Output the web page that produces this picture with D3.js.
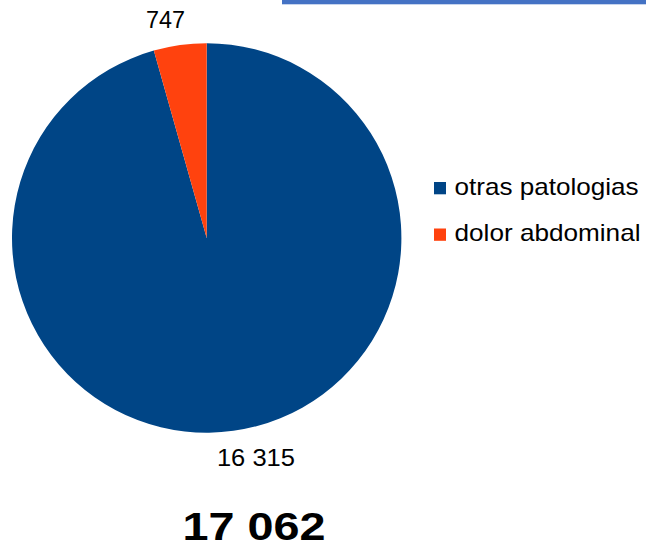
<!DOCTYPE html>
<html>
<head>
<meta charset="utf-8">
<script src="https://cdn.jsdelivr.net/npm/d3@7"></script>
<style>
  body { margin: 0; background: #fff; }
  svg { display: block; font-family: "Liberation Sans", Arial, sans-serif; }
</style>
</head>
<body>
<div class="container"></div>
<script>
// data
const categories = ['otras patologias', 'dolor abdominal']
const values = [16315, 747]
const valueLabels = ['16 315', '747']
const totalLabel = '17 062'
const colors = ['#004586', '#ff420e']

const width = 646
const height = 552
const cx = 206.7, cy = 238
const radius = 194.7

const svg = d3.select('.container').append('svg')
    .attr('width', width)
    .attr('height', height)

// blue strip on top
svg.append('rect')
    .attr('x', 282).attr('y', 0)
    .attr('width', 364).attr('height', 4.3)
    .attr('fill', '#4472c4')

const color = d3.scaleOrdinal().domain(categories).range(colors)

const pie = d3.pie().sort(null).value(d => d.value)
const arc = d3.arc().innerRadius(0).outerRadius(radius)

const data = categories.map((c, i) => ({ cat: c, value: values[i], label: valueLabels[i] }))
const arcs = pie(data)

const g = svg.append('g').attr('transform', `translate(${cx},${cy})`)

g.selectAll('path')
    .data(arcs)
    .enter()
    .append('path')
    .attr('d', arc)
    .attr('fill', d => color(d.data.cat))

// value labels outside the slices
const labelWidths = { '16 315': 78, '747': 39 }
g.selectAll('.val')
    .data(arcs)
    .enter()
    .append('text')
    .attr('class', 'val')
    .attr('x', d => Math.sin((d.startAngle + d.endAngle) / 2) * 330 + 4)
    .attr('y', d => -Math.cos((d.startAngle + d.endAngle) / 2) * 221 + 8.6)
    .attr('text-anchor', 'middle')
    .attr('textLength', d => labelWidths[d.data.label])
    .attr('lengthAdjust', 'spacingAndGlyphs')
    .style('font-size', '24px')
    .style('fill', '#000')
    .text(d => d.data.label)

// legend
const legend = svg.append('g')
    .attr('id', 'legend')
    .selectAll('g')
    .data(categories)
    .enter()
    .append('g')
    .attr('transform', (d, i) => `translate(434, ${182 + i * 46.5})`)

legend.append('rect')
    .attr('width', 12).attr('height', 12.3)
    .attr('fill', d => color(d))

const legendWidths = [184, 186]
legend.append('text')
    .attr('x', 20.5)
    .attr('y', 12.5)
    .attr('textLength', (d, i) => legendWidths[i])
    .attr('lengthAdjust', 'spacingAndGlyphs')
    .style('font-size', '24px')
    .text(d => d)

// total
svg.append('text')
    .attr('x', 254)
    .attr('y', 540)
    .attr('text-anchor', 'middle')
    .attr('textLength', 143)
    .attr('lengthAdjust', 'spacingAndGlyphs')
    .style('font-size', '38px')
    .style('font-weight', 'bold')
    .text(totalLabel)
</script>
</body>
</html>
